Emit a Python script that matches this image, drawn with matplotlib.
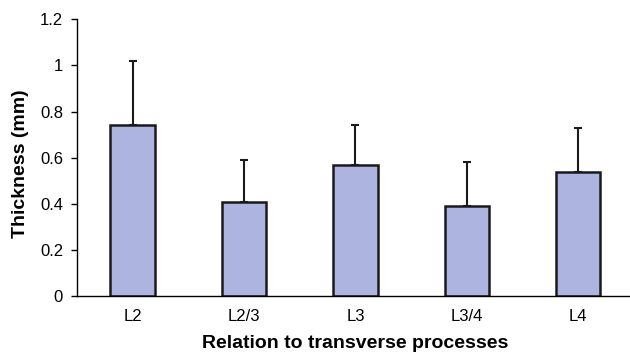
import matplotlib.pyplot as plt
import numpy as np

plt.rcParams['font.family'] = ['Liberation Sans', 'DejaVu Sans']

levels = ['L2', 'L2/3', 'L3', 'L3/4', 'L4']
thickness = [0.74, 0.41, 0.57, 0.39, 0.54]
sd = [0.28, 0.18, 0.17, 0.19, 0.19]

fig = plt.figure(figsize=(6.3, 3.52), dpi=100)
ax = fig.add_axes([0.1222, 0.159, 0.884, 0.786])

x = np.arange(len(levels))
ax.bar(x, thickness, width=0.4, color='#aeb4e0', edgecolor='#1a1a1a', linewidth=1.8, zorder=2)
ax.errorbar(x, thickness, yerr=[np.zeros(len(sd)), sd], fmt='none', ecolor='#1a1a1a',
            elinewidth=1.5, capsize=3, capthick=1.5, zorder=1)

ax.set_xlim(-0.5, 4.5)
ax.set_ylim(0, 1.2)
ax.set_yticks([0, 0.2, 0.4, 0.6, 0.8, 1, 1.2])
ax.set_yticklabels(['0', '0.2', '0.4', '0.6', '0.8', '1', '1.2'])
ax.set_xticks(x)
ax.set_xticklabels(levels)
ax.tick_params(axis='x', length=0, pad=9, labelsize=12)
ax.tick_params(axis='y', length=4, width=1, pad=6, labelsize=12)
for s in ['top', 'right']:
    ax.spines[s].set_visible(False)
ax.spines['left'].set_linewidth(1)
ax.spines['bottom'].set_linewidth(1)

ax.set_ylabel('Thickness (mm)', fontsize=14, fontweight='bold')
ax.yaxis.set_label_coords(-0.086, 0.477)
ax.set_xlabel('Relation to transverse processes', fontsize=14, fontweight='bold', labelpad=8)

fig.savefig('out.png', dpi=100)
